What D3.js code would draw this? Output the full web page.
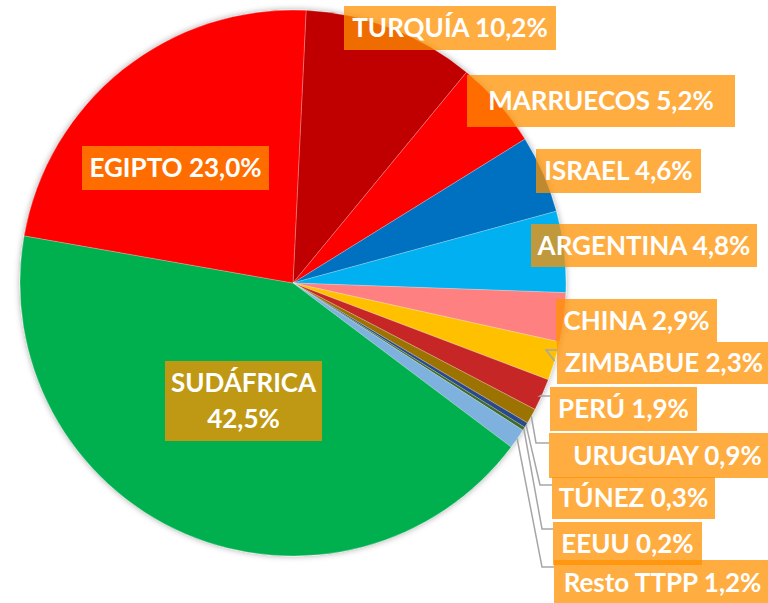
<!DOCTYPE html>
<html>
<head>
<meta charset="utf-8">
<script src="https://cdn.jsdelivr.net/npm/d3@7"></script>
<style>
  body { margin: 0; background: #fff; }
  svg { display: block; }
  .lbl { font-family: "Lato", "Open Sans", sans-serif; font-weight: 700; font-size: 26px; fill: #fff; }
</style>
</head>
<body>
<div id="chart"></div>
<script>
// data
var countries = ["TURQUÍA", "MARRUECOS", "ISRAEL", "ARGENTINA", "CHINA", "ZIMBABUE", "PERÚ",
                 "URUGUAY", "TÚNEZ", "EEUU", "Resto TTPP", "SUDÁFRICA", "EGIPTO"];
var shares = [10.2, 5.2, 4.6, 4.8, 2.9, 2.3, 1.9, 0.9, 0.3, 0.2, 1.2, 42.5, 23.0];
var colors = ["#C00000", "#FF0000", "#0070C0", "#00B0F0", "#FF8080", "#FFC000", "#C62828",
              "#9C7200", "#2B4A8C", "#3F6B2A", "#7FB1DF", "#00B050", "#FF0000"];

// label boxes [x0, y0, x1, y1] and leader elbows (null = no leader)
var boxes = [[344, 6, 556, 50], [467, 75, 735, 127], [536, 149, 701, 193], [531, 224, 757, 267],
             [556, 299, 717, 342], [557, 342, 771, 384], [550, 387, 697, 431], [549, 433, 786, 478],
             [552, 477, 715, 519], [553, 522, 702, 565], [554, 560, 771, 606], [165, 361, 322, 441],
             [82, 146, 269, 190]];
var elbows = [null, null, null, null, null, [546, 350], [540, 396], [536, 443], [540, 485],
              [542, 529], [542, 567], null, null];

var width = 768, height = 603;
var cx = 293, cy = 283, r = 273;
var offset = 2.75 * Math.PI / 180;

var svg = d3.select("#chart").append("svg").attr("width", width).attr("height", height);

var defs = svg.append("defs");
var f = defs.append("filter").attr("id", "shadow").attr("x", "-10%").attr("y", "-10%")
    .attr("width", "120%").attr("height", "120%");
f.append("feDropShadow").attr("dx", 0).attr("dy", 0).attr("stdDeviation", 3)
    .attr("flood-color", "#000").attr("flood-opacity", 0.35);

var pie = d3.pie().sort(null).value(function (d) { return d; })
    .startAngle(offset).endAngle(offset + 2 * Math.PI);
var arcs = pie(shares);
var arc = d3.arc().innerRadius(0).outerRadius(r);

var g = svg.append("g").attr("transform", "translate(" + cx + "," + cy + ")");
g.append("g").attr("filter", "url(#shadow)")
  .selectAll("path").data(arcs).enter().append("path")
    .attr("d", arc)
    .style("fill", function (d, i) { return colors[i]; })
    .style("stroke", "#fff").style("stroke-width", 0.7).style("stroke-opacity", 0.35);

// leader lines
function edge(d) {
    var a = (d.startAngle + d.endAngle) / 2;
    return [cx + r * Math.sin(a), cy - r * Math.cos(a)];
}
arcs.forEach(function (d, i) {
    if (!elbows[i]) return;
    var p = edge(d), b = boxes[i];
    var pts = [p, elbows[i], [b[0], elbows[i][1]]];
    svg.append("path")
      .attr("d", d3.line()(pts))
      .style("fill", "none").style("stroke", "#A6A6A6").style("stroke-width", 1.5);
});

var fmt = d3.format(".1f");
function pct(v) { return fmt(v).replace(".", ",") + "%"; }

var lg = svg.append("g");
countries.forEach(function (c, i) {
    var b = boxes[i];
    lg.append("rect")
      .attr("x", b[0]).attr("y", b[1])
      .attr("width", b[2] - b[0]).attr("height", b[3] - b[1])
      .style("fill", "rgb(255,145,0)").style("fill-opacity", 0.75);
    var mx = (b[0] + b[2]) / 2, my = (b[1] + b[3]) / 2;
    if (c == "SUDÁFRICA") {
        lg.append("text").attr("class", "lbl").attr("x", mx).attr("y", my - 9)
          .attr("text-anchor", "middle").text(c);
        lg.append("text").attr("class", "lbl").attr("x", mx).attr("y", my + 27)
          .attr("text-anchor", "middle").text(pct(shares[i]));
    } else {
        lg.append("text").attr("class", "lbl").attr("x", mx).attr("y", my + 9)
          .attr("text-anchor", "middle").text(c + " " + pct(shares[i]));
    }
});
</script>
</body>
</html>
